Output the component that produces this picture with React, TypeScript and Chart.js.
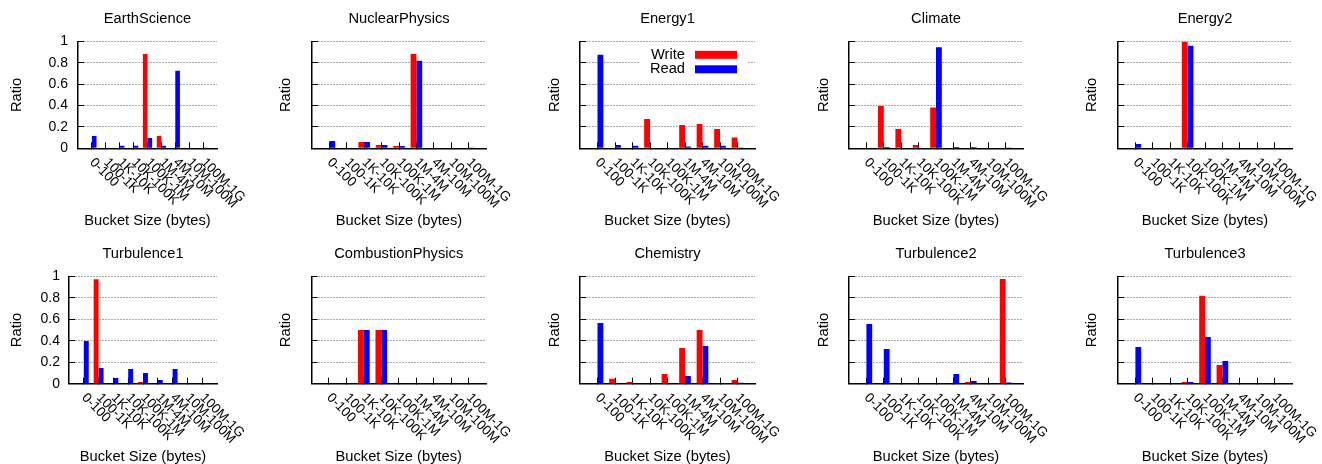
import React, { useEffect, useRef } from 'react';
import { Chart, registerables } from 'chart.js';

Chart.register(...registerables);

// ---------------- DATA ----------------
const categories = ['0-100', '100-1K', '1K-10K', '10K-100K', '100K-1M', '1M-4M', '4M-10M', '10M-100M', '100M-1G'];
const yTicks = [0, 0.2, 0.4, 0.6, 0.8, 1];
const yTickLabels = ['0', '0.2', '0.4', '0.6', '0.8', '1'];
const seriesNames = ['Write', 'Read'];

const panelTitles = ['EarthScience', 'NuclearPhysics', 'Energy1', 'Climate', 'Energy2', 'Turbulence1', 'CombustionPhysics', 'Chemistry', 'Turbulence2', 'Turbulence3'];

const earthScienceWrite = [0, 0, 0, 0, 0.884, 0.116, 0, 0, 0];
const earthScienceRead = [0.116, 0, 0.025, 0.025, 0.097, 0.025, 0.725, 0, 0.003];

const nuclearPhysicsWrite = [0, 0, 0.059, 0.031, 0.022, 0.884, 0, 0, 0];
const nuclearPhysicsRead = [0.069, 0, 0.059, 0.031, 0.022, 0.819, 0, 0, 0.002];

const energy1Write = [0, 0, 0, 0.275, 0, 0.219, 0.228, 0.181, 0.1];
const energy1Read = [0.875, 0.031, 0.025, 0, 0, 0.016, 0.025, 0.025, 0.008];

const climateWrite = [0, 0.397, 0.181, 0.031, 0.381, 0, 0, 0, 0];
const climateRead = [0, 0.012, 0, 0, 0.947, 0.012, 0.012, 0, 0.002];

const energy2Write = [0, 0, 0, 0.997, 0, 0, 0, 0, 0];
const energy2Read = [0.04, 0, 0, 0.96, 0, 0, 0, 0, 0];

const turbulence1Write = [0, 0.972, 0, 0, 0.016, 0, 0, 0.003, 0];
const turbulence1Read = [0.398, 0.146, 0.053, 0.137, 0.1, 0.034, 0.137, 0, 0];

const combustionPhysicsWrite = [0, 0, 0.5, 0.5, 0, 0, 0, 0, 0];
const combustionPhysicsRead = [0, 0, 0.5, 0.5, 0, 0, 0, 0, 0];

const chemistryWrite = [0, 0.047, 0.016, 0.005, 0.09, 0.332, 0.5, 0.003, 0.034];
const chemistryRead = [0.565, 0, 0, 0, 0.003, 0.071, 0.351, 0, 0.01];

const turbulence2Write = [0, 0, 0, 0, 0, 0, 0.016, 0, 0.975];
const turbulence2Read = [0.556, 0.323, 0, 0, 0, 0.09, 0.025, 0, 0.012];

const turbulence3Write = [0, 0, 0, 0.016, 0.82, 0.174, 0, 0, 0];
const turbulence3Read = [0.342, 0, 0, 0.016, 0.435, 0.211, 0, 0, 0];

const writeSeries = [earthScienceWrite, nuclearPhysicsWrite, energy1Write, climateWrite, energy2Write, turbulence1Write, combustionPhysicsWrite, chemistryWrite, turbulence2Write, turbulence3Write];
const readSeries = [earthScienceRead, nuclearPhysicsRead, energy1Read, climateRead, energy2Read, turbulence1Read, combustionPhysicsRead, chemistryRead, turbulence2Read, turbulence3Read];

// ---------------- LAYOUT / STYLE ----------------
const FONT_FAMILY = '"Liberation Sans", Arial, Helvetica, sans-serif';
const TEXT_SIZE = 14.7;
const TICK_SIZE = 14;
const XLABEL_SIZE = 13.5;
const CELL_LEFT = [0, 264, 529, 793, 1058];
const CELL_W = 264;
const CELL_H = 232;
const PLOT_LEFT = [[78, 312, 580, 849, 1118], [69, 311.5, 580, 849, 1118]];
const PLOT_RIGHT = [217, 486, 755, 1023, 1292];
const PLOT_TOP = [41.5, 44.3];
const PLOT_BOTTOM = [148.3, 151.7];
const RATIO_X = [17, 286, 555, 824, 1092];
const XTITLE_Y = [220.8, 225];
const RED = '#ff0000';
const BLUE = '#0000ff';

const decorPlugin = {
  id: 'panelDecor',
  afterDatasetsDraw(chart: any, _args: any, opts: any) {
    if (!opts.legend) return;
    const { ctx, chartArea } = chart;
    ctx.save();
    ctx.fillStyle = '#ffffff';
    ctx.fillRect(chartArea.right - 115, chartArea.top + 5, 107, 31);
    ctx.font = `${TEXT_SIZE}px ${FONT_FAMILY}`;
    ctx.textAlign = 'right';
    ctx.textBaseline = 'middle';
    chart.data.datasets.forEach((ds: any, i: number) => {
      const y = chartArea.top + 13.3 + i * 14.5;
      ctx.fillStyle = '#000';
      ctx.fillText(ds.label, chartArea.right - 70, y);
      ctx.fillStyle = ds.backgroundColor;
      ctx.fillRect(chartArea.right - 60, y - 4, 42, 8);
    });
    ctx.restore();
  },
  afterDraw(chart: any, _args: any, opts: any) {
    const { ctx, chartArea } = chart;
    ctx.save();
    ctx.fillStyle = '#000';
    ctx.font = `${TEXT_SIZE}px ${FONT_FAMILY}`;
    ctx.textAlign = 'center';
    ctx.textBaseline = 'middle';
    ctx.fillText(opts.title, (chartArea.left + chartArea.right) / 2, chartArea.top - 22.3);

    const xs = chart.scales.x;
    ctx.font = `${XLABEL_SIZE}px ${FONT_FAMILY}`;
    ctx.textAlign = 'left';
    xs.ticks.forEach((_t: any, i: number) => {
      const lab = chart.data.labels[i];
      if (!lab) return;
      const px = xs.getPixelForTick(i);
      ctx.save();
      ctx.translate(px, chartArea.bottom + 12);
      ctx.rotate(Math.PI / 4);
      ctx.fillText(lab, 0, 0);
      ctx.restore();
    });
    ctx.restore();
  },
};

function Panel({ idx }: { idx: number }) {
  const ref = useRef<HTMLCanvasElement | null>(null);
  const row = Math.floor(idx / 5);
  const col = idx % 5;

  useEffect(() => {
    if (!ref.current) return;
    const cellLeft = CELL_LEFT[col];
    const plotLeft = PLOT_LEFT[row][col] - cellLeft;
    const rightPad = cellLeft + CELL_W - PLOT_RIGHT[col];
    const plotTop = PLOT_TOP[row];
    const plotBottom = PLOT_BOTTOM[row];
    const showY = col === 0;
    const ratioPad = RATIO_X[col] - cellLeft - TEXT_SIZE / 2;
    const xTitlePad = CELL_H - XTITLE_Y[row] - TEXT_SIZE / 2;
    const font = { family: FONT_FAMILY, size: TEXT_SIZE, lineHeight: 1 };

    const labels = ['', ...categories, ''];
    const chart = new Chart(ref.current, {
      type: 'bar',
      data: {
        labels,
        datasets: [
          { label: seriesNames[0], data: [null, ...writeSeries[idx], null], backgroundColor: RED, borderWidth: 0, categoryPercentage: 0.667, barPercentage: 1 },
          { label: seriesNames[1], data: [null, ...readSeries[idx], null], backgroundColor: BLUE, borderWidth: 0, categoryPercentage: 0.667, barPercentage: 1 },
        ],
      },
      options: {
        responsive: false,
        animation: false,
        devicePixelRatio: 1,
        layout: { padding: { left: 0, right: rightPad, top: plotTop, bottom: 0 } },
        plugins: {
          legend: { display: false },
          title: { display: false },
          tooltip: { enabled: false },
          panelDecor: { title: panelTitles[idx], legend: idx === 2 },
        } as any,
        scales: {
          x: {
            type: 'category',
            offset: false,
            grid: {
              display: true,
              offset: false,
              drawOnChartArea: false,
              drawTicks: true,
              tickLength: -6,
              tickWidth: 1,
              tickColor: (c: any) => (c.tick && c.tick.label === '' ? 'rgba(0,0,0,0)' : '#000'),
            },
            border: { display: true, color: '#000', width: 1.5 },
            ticks: { display: false },
            title: { display: true, text: 'Bucket Size (bytes)', color: '#000', font, padding: { top: 0, bottom: xTitlePad } },
            afterFit: (s: any) => { s.height = CELL_H - plotBottom; },
          },
          y: {
            type: 'linear',
            min: yTicks[0],
            max: yTicks[yTicks.length - 1],
            afterBuildTicks: (s: any) => { s.ticks = yTicks.map((v) => ({ value: v })); },
            ticks: {
              display: showY,
              color: '#000',
              font: { family: FONT_FAMILY, size: TICK_SIZE },
              padding: row === 0 ? 16 : 15,
              callback: (v: any) => {
                const k = yTicks.indexOf(Number(v));
                return k >= 0 ? yTickLabels[k] : String(v);
              },
            },
            grid: {
              display: true,
              drawOnChartArea: true,
              color: (c: any) => (c.tick && c.tick.value === 0 ? 'rgba(0,0,0,0)' : '#555'),
              lineWidth: 1,
              drawTicks: true,
              tickLength: -6,
              tickWidth: 1,
              tickColor: '#000',
            },
            border: { display: true, color: '#000', width: 1.5, dash: [1, 2] },
            title: { display: true, text: 'Ratio', color: '#000', font, padding: { top: ratioPad, bottom: 0 } },
            afterFit: (s: any) => { s.width = plotLeft; },
          },
        },
      } as any,
      plugins: [decorPlugin as any],
    });
    return () => chart.destroy();
  }, [idx, row, col]);

  return (
    <canvas
      ref={ref}
      width={CELL_W}
      height={CELL_H}
      style={{ position: 'absolute', left: CELL_LEFT[col], top: row * CELL_H, width: CELL_W, height: CELL_H }}
    />
  );
}

export default function App() {
  return (
    <div style={{ position: 'fixed', left: 0, top: 0, width: 1322, height: 464, background: '#fff', overflow: 'hidden' }}>
      {panelTitles.map((_, i) => (
        <Panel key={i} idx={i} />
      ))}
    </div>
  );
}
